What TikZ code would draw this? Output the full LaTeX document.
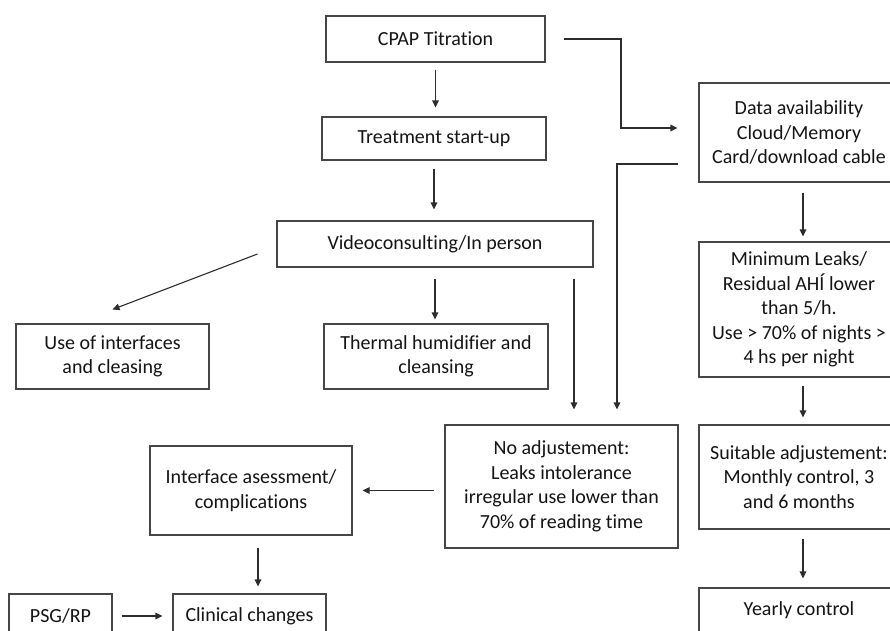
\documentclass[tikz,border=0pt]{standalone}
\usepackage{fontspec}
\setmainfont{Carlito}[Ligatures=NoCommon]
\usepackage{tikz}
\usetikzlibrary{arrows.meta, calc}
\definecolor{Box_Line}{RGB}{70,70,70}
\definecolor{Flow_Line}{RGB}{45,45,45}
\definecolor{Box_Text}{RGB}{20,20,20}

\tikzset{
    stage/.style={draw=Box_Line, line width=1.1pt, align=center, inner sep=0pt,
        text=Box_Text, font=\fontsize{20}{24.5}\selectfont},
    flow/.style={draw=Flow_Line, line width=1.1pt, -{Triangle[length=7pt,width=6.5pt]}},
}

\begin{document}
\begin{tikzpicture}[x=1pt, y=-1pt]
    %% Frame
    \clip (0,0) rectangle (890,630);
    \fill[white] (0,0) rectangle (890,630);

    %% Centre column
    \node[stage, minimum width=219pt, minimum height=46pt] (cpap) at (435.5,39) {CPAP Titration};
    \node[stage, minimum width=224pt, minimum height=43pt] (treat) at (434,138.5) {Treatment start-up};
    \node[stage, minimum width=316pt, minimum height=46pt] (video) at (435,244) {Videoconsulting/In person};
    \node[stage, minimum width=193pt, minimum height=65pt] (use) at (112.5,356.5) {Use of interfaces\\and cleasing};
    \node[stage, minimum width=224pt, minimum height=65pt] (thermal) at (436,356.5) {Thermal humidifier and\\cleansing};
    \node[stage, minimum width=233pt, minimum height=123pt] (noadj) at (561.5,486.5)
        {No adjustement:\\Leaks intolerance\\irregular use lower than\\70\% of reading time};
    \node[stage, minimum width=202pt, minimum height=89pt] (iface) at (251,490.5) {Interface asessment/\\complications};
    \node[stage, minimum width=103pt, minimum height=44pt] (psg) at (60.5,616) {PSG/RP};
    \node[stage, minimum width=153pt, minimum height=44pt] (clin) at (249.5,616) {Clinical changes};

    %% Right column
    \node[stage, minimum width=200pt, minimum height=99pt] (data) at (799,132.5)
        {Data availability\\Cloud/Memory\\Card/download cable};
    \node[stage, minimum width=200pt, minimum height=135pt] (leaks) at (799,309.5)
        {Minimum Leaks/\\Residual AHÍ lower\\than 5/h.\\Use > 70\% of nights >\\4 hs per night};
    \node[stage, minimum width=200pt, minimum height=104pt] (suit) at (799,477)
        {Suitable adjustement:\\Monthly control, 3\\and 6 months};
    \node[stage, minimum width=200pt, minimum height=44pt] (yearly) at (799,610) {Yearly control};

    %% Turning points
    \coordinate (cloud_turn) at (621,128);
    \coordinate (data_back) at (617,164);
    \coordinate (video_drop) at (574,0);
    \coordinate (right_drop) at (803,0);

    %% Flow
    \draw[flow, shorten <=7pt, shorten >=9pt] (cpap.south) to (cpap.south |- treat.north);
    \draw[flow, shorten <=18pt, shorten >=21pt] (cpap.east) -| (cloud_turn) to (data.west |- cloud_turn);
    \draw[flow, shorten <=8pt, shorten >=11pt] (treat.south) to (treat.south |- video.north);
    \draw[flow, shorten <=11pt, shorten >=4pt] (video.south) to (video.south |- thermal.north);
    \draw[flow] ([xshift=-19pt,yshift=-10pt]video.west) to ([yshift=14pt]use.north);
    \draw[flow, shorten <=11pt, shorten >=15pt] (video.south -| video_drop) to (noadj.north -| video_drop);
    \draw[flow, shorten <=20pt, shorten >=15pt] (data.west |- data_back) to (data_back) to (data_back |- noadj.north);
    \draw[flow, shorten <=10pt, shorten >=10pt] (noadj.west |- iface.east) to (iface.east);
    \draw[flow, shorten <=12pt, shorten >=7pt] ([xshift=7pt]iface.south) to ([xshift=7pt]iface.south |- clin.north);
    \draw[flow, shorten <=9pt, shorten >=10pt] (psg.east) to (psg.east -| clin.west);

    \draw[flow, shorten <=10pt, shorten >=5pt] (data.south -| right_drop) to (leaks.north -| right_drop);
    \draw[flow, shorten <=8pt, shorten >=7pt] (leaks.south -| right_drop) to (suit.north -| right_drop);
    \draw[flow, shorten <=9pt, shorten >=9pt] (suit.south -| right_drop) to (yearly.north -| right_drop);
\end{tikzpicture}
\end{document}
